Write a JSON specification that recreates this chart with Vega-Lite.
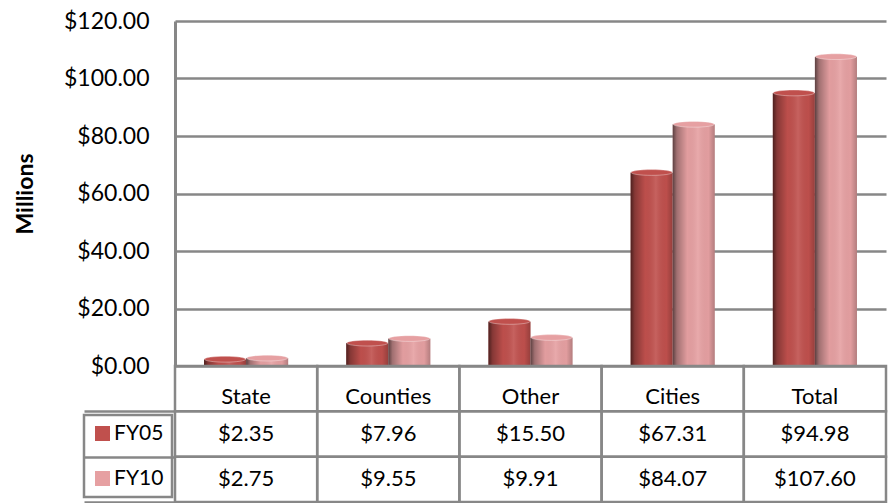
{
  "$schema": "https://vega.github.io/schema/vega-lite/v6.json",
  "width": 711,
  "height": 481,
  "autosize": {"type": "none"},
  "padding": {"left": 175, "top": 21, "right": 10, "bottom": 1},
  "config": {
    "font": "Lato",
    "view": {"stroke": null},
    "text": {"font": "Lato"},
    "legend": {"strokeWidth": 2.5}
  },
  "data": {
    "values": [
      {"category": "State", "year": "FY05", "value": 2.35},
      {"category": "State", "year": "FY10", "value": 2.75},
      {"category": "Counties", "year": "FY05", "value": 7.96},
      {"category": "Counties", "year": "FY10", "value": 9.55},
      {"category": "Other", "year": "FY05", "value": 15.5},
      {"category": "Other", "year": "FY10", "value": 9.91},
      {"category": "Cities", "year": "FY05", "value": 67.31},
      {"category": "Cities", "year": "FY10", "value": 84.07},
      {"category": "Total", "year": "FY05", "value": 94.98},
      {"category": "Total", "year": "FY10", "value": 107.6}
    ]
  },
  "encoding": {
    "x": {
      "field": "category",
      "type": "nominal",
      "sort": null,
      "scale": {"paddingInner": 0, "paddingOuter": 0},
      "axis": null
    }
  },
  "layer": [
    {
      "encoding": {
        "xOffset": {
          "field": "year",
          "type": "nominal",
          "scale": {"domain": ["FY05", "FY10"], "paddingInner": 0, "paddingOuter": 0.69}
        },
        "y": {
          "field": "value",
          "type": "quantitative",
          "scale": {"domain": [0, 120], "range": [345, 0], "nice": false, "zero": true}
        }
      },
      "layer": [
        {
          "mark": {"type": "bar"},
          "encoding": {
            "y": {
              "field": "value",
              "type": "quantitative",
              "axis": {
                "values": [0, 20, 40, 60, 80, 100, 120],
                "format": "$,.2f",
                "grid": true,
                "gridColor": "#878787",
                "gridWidth": 2.5,
                "domainColor": "#878787",
                "domainWidth": 3,
                "ticks": false,
                "labelFontSize": 23,
                "labelColor": "#000000",
                "labelPadding": 26,
                "title": "Millions",
                "titleFontSize": 23,
                "titleFontWeight": "bold",
                "titleColor": "#000000",
                "titlePadding": 26
              }
            },
            "color": {
              "field": "year",
              "type": "nominal",
              "scale": {"domain": ["FY05", "FY10"], "range": ["#c0504d", "#e6a0a2"]},
              "legend": {
                "orient": "none",
                "legendX": -91,
                "legendY": 394,
                "padding": 8,
                "strokeColor": "#878787",
                "title": null,
                "symbolType": "square",
                "symbolSize": 225,
                "symbolStrokeWidth": 0,
                "labelFontSize": 21,
                "labelColor": "#000000",
                "labelOffset": 1,
                "rowPadding": 23
              }
            }
          }
        },
        {
          "mark": {
            "type": "bar",
            "fill": {
              "gradient": "linear",
              "x1": 0, "y1": 0, "x2": 1, "y2": 0,
              "stops": [
                {"offset": 0, "color": "rgba(0,0,0,0.6)"},
                {"offset": 0.1, "color": "rgba(0,0,0,0.3)"},
                {"offset": 0.35, "color": "rgba(0,0,0,0.02)"},
                {"offset": 0.6, "color": "rgba(255,255,255,0.1)"},
                {"offset": 0.85, "color": "rgba(0,0,0,0.02)"},
                {"offset": 1, "color": "rgba(0,0,0,0.22)"}
              ]
            }
          },
          "encoding": {}
        },
        {
          "mark": {
            "type": "point",
            "shape": "M-1,0 A1,0.14 0 1,0 1,0 A1,0.14 0 1,0 -1,0 Z",
            "filled": true,
            "size": 1700,
            "opacity": 1,
            "stroke": "rgba(255,255,255,0.35)",
            "strokeWidth": 1
          },
          "encoding": {
            "color": {"field": "year", "type": "nominal"}
          }
        }
      ]
    },
    {
      "encoding": {
        "y": {
          "field": "year",
          "type": "nominal",
          "scale": {"domain": ["Category", "FY05", "FY10"], "range": [345, 481], "paddingInner": 0, "paddingOuter": 0},
          "axis": {
            "orient": "left",
            "values": ["FY05", "FY10"],
            "labels": false,
            "domain": false,
            "grid": false,
            "ticks": true,
            "tickBand": "extent",
            "tickSize": 91,
            "tickColor": "#878787",
            "tickWidth": 2.5,
            "title": null
          }
        }
      },
      "layer": [
        {
          "mark": {"type": "rect", "fillOpacity": 0, "stroke": "#878787", "strokeWidth": 2.5},
          "encoding": {}
        },
        {
          "transform": [{"filter": "datum.year === 'FY05'"}],
          "mark": {"type": "rect", "fillOpacity": 0, "stroke": "#878787", "strokeWidth": 2.5},
          "encoding": {"y": {"datum": "Category"}}
        },
        {
          "mark": {"type": "text", "fontSize": 22, "color": "#000000"},
          "encoding": {
            "text": {"field": "value", "type": "quantitative", "format": "$,.2f"}
          }
        },
        {
          "transform": [{"filter": "datum.year === 'FY05'"}],
          "mark": {"type": "text", "fontSize": 22, "color": "#000000", "dy": 8},
          "encoding": {
            "y": {"datum": "Category"},
            "text": {"field": "category", "type": "nominal"}
          }
        }
      ]
    }
  ],
  "resolve": {"scale": {"y": "independent"}}
}
